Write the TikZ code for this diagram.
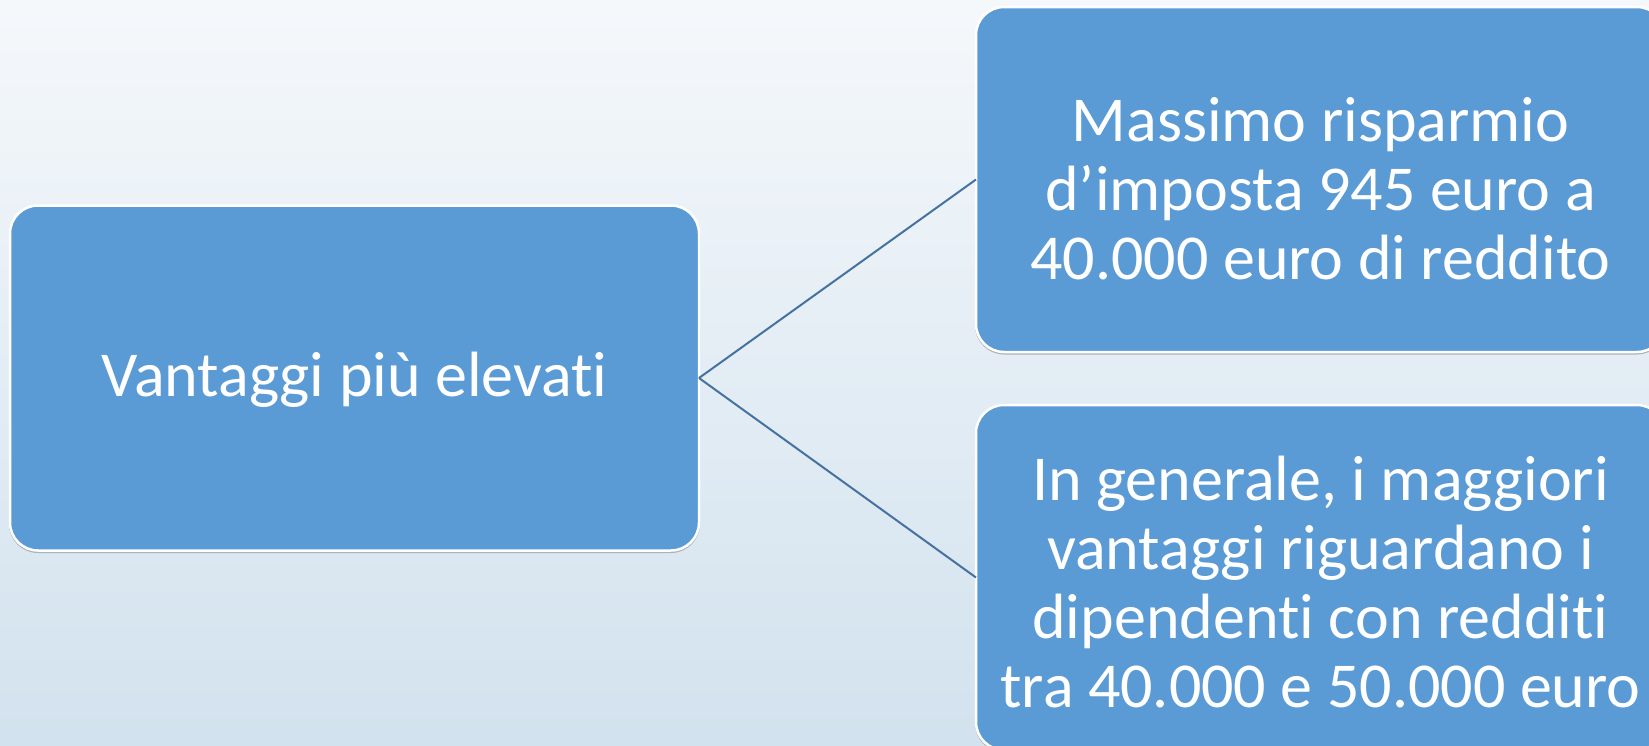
\documentclass[tikz,border=0pt]{standalone}
\usepackage{fontspec}
\setmainfont{Carlito}[RawFeature=-liga]
\definecolor{boxblue}{RGB}{91,155,213}
\definecolor{linkblue}{RGB}{70,114,160}
\definecolor{bgtop}{RGB}{245,248,251}
\definecolor{bgbot}{RGB}{210,226,238}
\definecolor{rimgray}{RGB}{170,178,186}
\begin{document}
\begin{tikzpicture}[x=1pt,y=-1pt,
  boxshape/.style={rounded corners=28pt, minimum width=689pt, minimum height=345pt,
    inner sep=0pt, outer sep=0pt},
  blockbox/.style={boxshape, fill=boxblue, draw=white, line width=2.5pt},
  rimbox/.style={boxshape, draw=rimgray, line width=2pt},
  boxtext/.style={text=white, align=center, inner sep=0pt,
    font=\fontsize{64}{69}\selectfont},
  link/.style={draw=linkblue, line width=2pt}]
\useasboundingbox (0,0) rectangle (1649,745);
\clip (0,0) rectangle (1649,745);
\shade[top color=bgtop, bottom color=bgbot] (0,0) rectangle (1649,745);
% soft rims under the boxes
\node[rimbox] (lbrim) at (354.5,379.5) {};
\node[rimbox] (trrim) at (1320.5,181) {};
\node[rimbox] (brrim) at (1320.5,579) {};
% boxes
\node[blockbox] (lb) at (354.5,378) {};
\node[blockbox] (tr) at (1320.5,179.5) {};
\node[blockbox] (br) at (1320.5,577.5) {};
% texts
\node[boxtext] (lbt) at ([yshift=-2pt]lb.center) {Vantaggi più elevati};
\node[boxtext] (trt) at ([yshift=-9pt]tr.center) {Massimo risparmio\\d’imposta 945 euro a\\40.000 euro di reddito};
\node[boxtext] (brt) at ([yshift=-5pt]br.center) {In generale, i maggiori\\vantaggi riguardano i\\dipendenti con redditi\\tra 40.000 e 50.000 euro};
% connectors
\draw[link] (lb.east) -- (tr.west);
\draw[link] (lb.east) -- (br.west);
\end{tikzpicture}
\end{document}
